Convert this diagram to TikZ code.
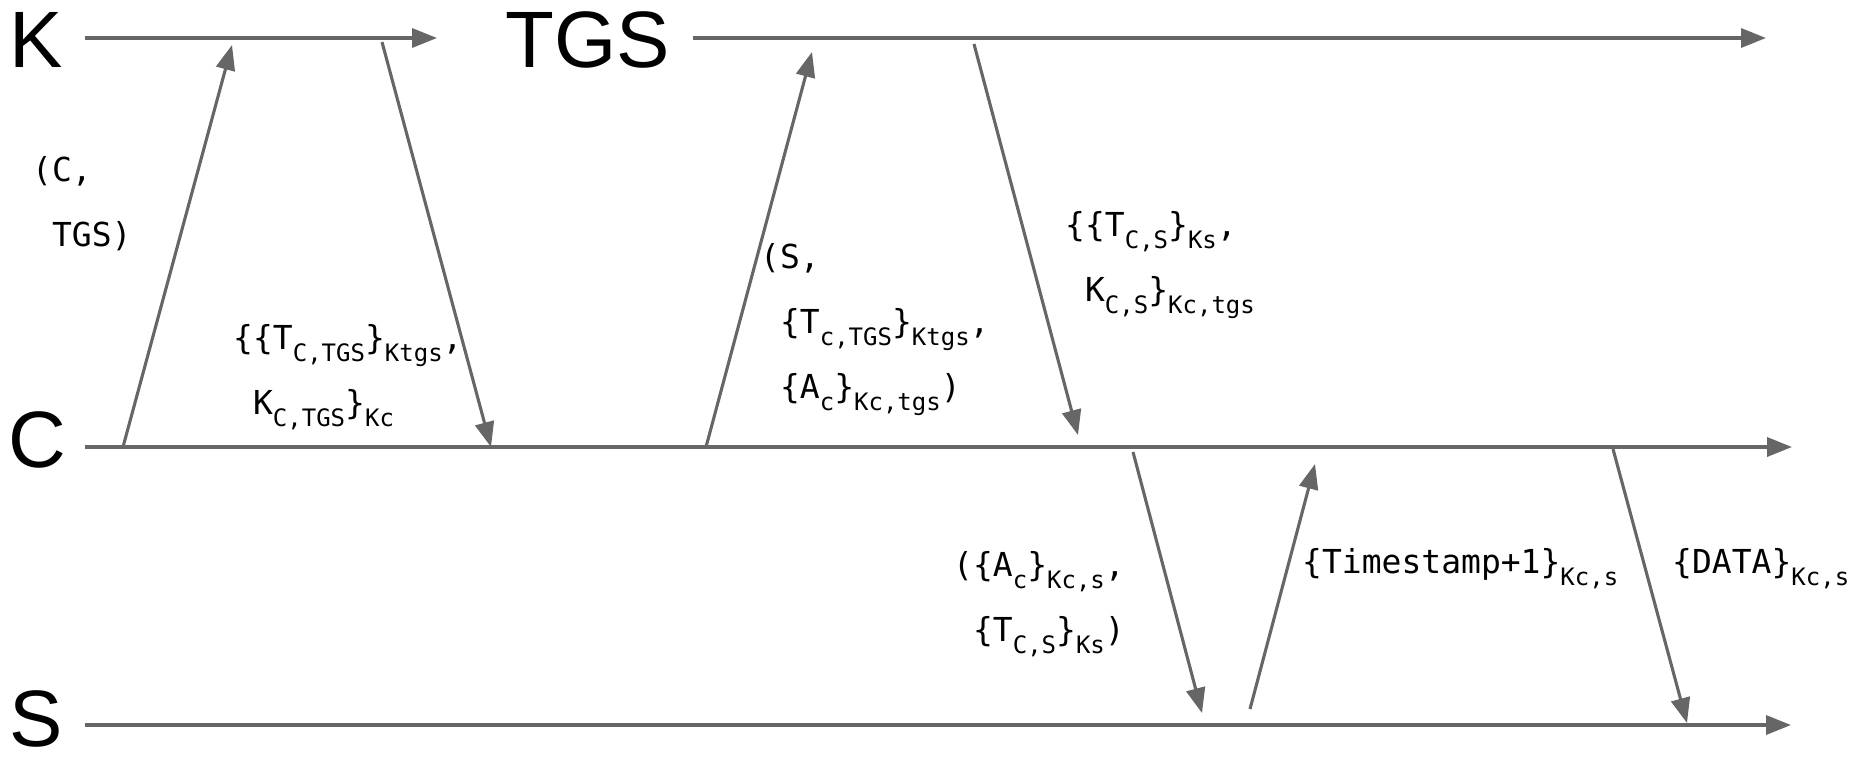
\documentclass[tikz,border=0pt]{standalone}
\usepackage{fontspec}
\setmainfont{Liberation Sans}
\setmonofont{DejaVu Sans Mono}
\usetikzlibrary{arrows.meta}
\definecolor{linegray}{RGB}{102,102,102}
\newcommand\lsb[1]{\lower12pt\hbox{\fontsize{24}{24}\selectfont\ttfamily #1}}
\newcommand\ind{\phantom{x}}
\newcommand\fst{\rule{0pt}{30pt}}
\begin{document}
\begin{tikzpicture}[x=1pt,y=-1pt,
  actor/.style={font=\fontsize{80}{80}\selectfont, inner sep=0pt, anchor=base west},
  msg/.style={font=\fontsize{33}{65}\selectfont\ttfamily, align=left, inner sep=0pt, anchor=north west},
  timeline/.style={draw=linegray, line width=3.4pt, -{Triangle[length=25pt,width=19pt]}},
  flow/.style={draw=linegray, line width=3.1pt, -{Triangle[length=25pt,width=19pt]}}]
\useasboundingbox[fill=white] (0,0) rectangle (1860,756);

% actors
\node[actor] (K) at (9,67) {K};
\node[actor] (TGS) at (505,67) {TGS};
\node[actor] (C) at (8,467) {C};
\node[actor] (S) at (9,746) {S};

% timeline ends
\coordinate (k0) at (85,38);   \coordinate (k1) at (437,38);
\coordinate (t0) at (693,38);  \coordinate (t1) at (1766,38);
\coordinate (c0) at (85,447);  \coordinate (c1) at (1792,447);
\coordinate (s0) at (85,725);  \coordinate (s1) at (1791,725);

\draw[timeline] (k0) -- (k1);
\draw[timeline] (t0) -- (t1);
\draw[timeline] (c0) -- (c1);
\draw[timeline] (s0) -- (s1);

% message ends
\coordinate (m1a) at (123,447);  \coordinate (m1b) at (232,45);
\coordinate (m2a) at (382,42);   \coordinate (m2b) at (491,447);
\coordinate (m3a) at (706,447);  \coordinate (m3b) at (812,52);
\coordinate (m4a) at (974,44);   \coordinate (m4b) at (1078,435);
\coordinate (m5a) at (1133,452); \coordinate (m5b) at (1202,713);
\coordinate (m6a) at (1250,709); \coordinate (m6b) at (1315,464);
\coordinate (m7a) at (1613,449); \coordinate (m7b) at (1687,723);

\draw[flow] (m1a) -- (m1b);
\draw[flow] (m2a) -- (m2b);
\draw[flow] (m3a) -- (m3b);
\draw[flow] (m4a) -- (m4b);
\draw[flow] (m5a) -- (m5b);
\draw[flow] (m6a) -- (m6b);
\draw[flow] (m7a) -- (m7b);

% labels
\node[msg] (l1) at (32,151) {\fst(C,\\\ind TGS)};
\node[msg] (l2) at (233,319) {\fst\{\{T\lsb{C,TGS}\}\lsb{Ktgs},\\\ind K\lsb{C,TGS}\}\lsb{Kc}};
\node[msg] (l3) at (760,238) {\fst(S,\\\ind\{T\lsb{c,TGS}\}\lsb{Ktgs},\\\ind\{A\lsb{c}\}\lsb{Kc,tgs})};
\node[msg] (l4) at (1065,206) {\fst\{\{T\lsb{C,S}\}\lsb{Ks},\\\ind K\lsb{C,S}\}\lsb{Kc,tgs}};
\node[msg] (l5) at (953,546) {\fst(\{A\lsb{c}\}\lsb{Kc,s},\\\ind\{T\lsb{C,S}\}\lsb{Ks})};
\node[msg] (l6) at (1302,543) {\fst\{Timestamp+1\}\lsb{Kc,s}};
\node[msg] (l7) at (1672,543) {\fst\{DATA\}\lsb{Kc,s}};
\end{tikzpicture}
\end{document}
